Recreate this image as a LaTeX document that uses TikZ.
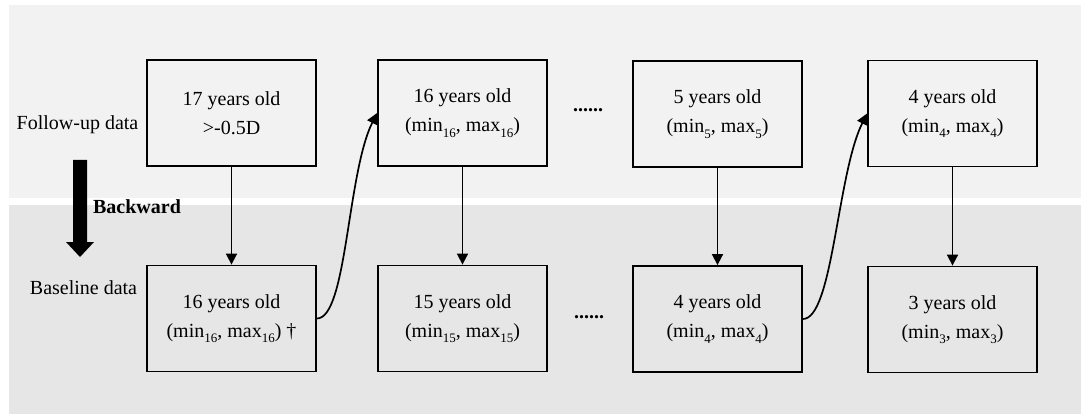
\documentclass[tikz,border=0pt]{standalone}
\usepackage{fontspec}
\setmainfont{Liberation Serif}
\usetikzlibrary{arrows.meta}
\definecolor{topband}{HTML}{F2F2F2}
\definecolor{botband}{HTML}{E6E6E6}
\newcommand{\lowsub}[1]{\raisebox{-5.5pt}{\fontsize{13}{13}\selectfont #1}}
\tikzset{
  agebox/.style={draw=black, line width=1.8pt, minimum width=169pt, minimum height=106pt, inner sep=0pt, align=center, font=\fontsize{20}{29}\selectfont},
  lbl/.style={anchor=base, inner sep=0pt, font=\fontsize{20}{24}\selectfont},
  conn/.style={line width=1.7pt, -{Triangle[length=11pt,width=11pt]}},
}
\begin{document}
\begin{tikzpicture}[x=1pt,y=-1pt]
\useasboundingbox (0,0) rectangle (1081,414);
\fill[white] (0,0) rectangle (1081,414);
\fill[topband] (9,5) rectangle (1081,198);
\fill[botband] (9,205) rectangle (1081,414);

% top row
\node[agebox] (t17) at (231.5,113) {17 years old\\>-0.5D};
\node[agebox] (t16) at (462.5,113) {16 years old\\(min\lowsub{16}, max\lowsub{16})};
\node[agebox] (t5) at (717.5,114) {5 years old\\(min\lowsub{5}, max\lowsub{5})};
\node[agebox] (t4) at (952.5,113.5) {4 years old\\(min\lowsub{4}, max\lowsub{4})};

% bottom row
\node[agebox] (b16) at (231.5,318.5) {16 years old\\(min\lowsub{16}, max\lowsub{16}) †};
\node[agebox] (b15) at (462.5,318.5) {15 years old\\(min\lowsub{15}, max\lowsub{15})};
\node[agebox] (b4) at (717.5,319) {4 years old\\(min\lowsub{4}, max\lowsub{4})};
\node[agebox] (b3) at (952.5,319.5) {3 years old\\(min\lowsub{3}, max\lowsub{3})};

% labels
\node[lbl] (fu) at (77.5,130) {Follow-up data};
\node[lbl] (bl) at (83.5,294) {Baseline data};
\node[lbl, font=\fontsize{20}{24}\selectfont\bfseries] (bw) at (137,213) {Backward};
\node[lbl, font=\fontsize{20}{24}\selectfont\bfseries] (dt) at (588,112) {......};
\node[lbl, font=\fontsize{20}{24}\selectfont\bfseries] (db) at (589,318) {......};

% backward arrow
\fill[black] (73,160) -- (87,160) -- (87,242) -- (94,242) -- (80,257) -- (66,242) -- (73,242) -- cycle;

% vertical arrows
\draw[conn] (t17.south) -- (b16.north);
\draw[conn] (t16.south) -- (b15.north);
\draw[conn] (t5.south) -- (b4.north);
\draw[conn] (t4.south) -- (b3.north);

% curved arrows
\draw[conn] (b16.east) .. controls +(30,0) and +(-30,60) .. (t16.west);
\draw[conn] (b4.east) .. controls +(30,0) and +(-30,60) .. (t4.west);
\end{tikzpicture}
\end{document}
